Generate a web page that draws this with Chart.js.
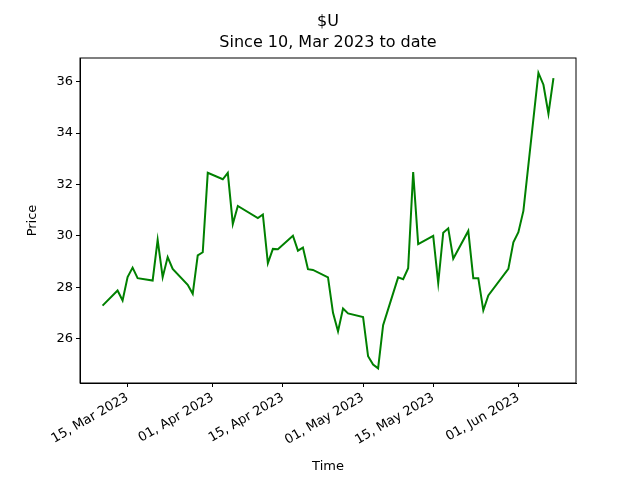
<!DOCTYPE html>
<html>
<head>
<meta charset="utf-8">
<script src="https://cdn.jsdelivr.net/npm/chart.js@4"></script>
<style>
  html, body { margin: 0; padding: 0; background: #fff; }
  #wrap { width: 640px; height: 480px; }
</style>
</head>
<body>
<div id="wrap"><canvas id="chart" width="640" height="480"></canvas></div>
<script>
const dates = ['2023-03-10','2023-03-13','2023-03-14','2023-03-15','2023-03-16','2023-03-17',
  '2023-03-20','2023-03-21','2023-03-22','2023-03-23','2023-03-24','2023-03-27','2023-03-28',
  '2023-03-29','2023-03-30','2023-03-31','2023-04-03','2023-04-04','2023-04-05','2023-04-06',
  '2023-04-10','2023-04-11','2023-04-12','2023-04-13','2023-04-14','2023-04-17','2023-04-18',
  '2023-04-19','2023-04-20','2023-04-21','2023-04-24','2023-04-25','2023-04-26','2023-04-27',
  '2023-04-28','2023-05-01','2023-05-02','2023-05-03','2023-05-04','2023-05-05','2023-05-08',
  '2023-05-09','2023-05-10','2023-05-11','2023-05-12','2023-05-15','2023-05-16','2023-05-17',
  '2023-05-18','2023-05-19','2023-05-22','2023-05-23','2023-05-24','2023-05-25','2023-05-26',
  '2023-05-30','2023-05-31','2023-06-01','2023-06-02','2023-06-05','2023-06-06','2023-06-07',
  '2023-06-08'];
const prices = [27.28, 27.87, 27.48, 28.39, 28.76, 28.35,
  28.26, 29.84, 28.39, 29.17, 28.71, 28.09, 27.74,
  29.24, 29.36, 32.45, 32.20, 32.45, 30.46, 31.16,
  30.69, 30.83, 28.93, 29.49, 29.48, 30.00, 29.42,
  29.54, 28.70, 28.67, 28.38, 27.00, 26.28, 27.17,
  26.98, 26.84, 25.31, 24.99, 24.84, 26.52, 28.38,
  28.31, 28.74, 32.48, 29.68, 30.00, 28.16, 30.12,
  30.29, 29.11, 30.19, 28.35, 28.35, 27.10, 27.68,
  28.71, 29.75, 30.14, 30.97, 36.34, 35.88, 34.75,
  36.14];
const tickDates = ['2023-03-15','2023-04-01','2023-04-15','2023-05-01','2023-05-15','2023-06-01'];
const yTicks = [26, 28, 30, 32, 34, 36];
const months = ['Jan','Feb','Mar','Apr','May','Jun','Jul','Aug','Sep','Oct','Nov','Dec'];

const day0 = Date.UTC(2023, 2, 10);
const toDay = s => { const p = s.split('-').map(Number); return (Date.UTC(p[0], p[1] - 1, p[2]) - day0) / 86400000; };
const fmt = d => { const t = new Date(day0 + d * 86400000); return String(t.getUTCDate()).padStart(2, '0') + ', ' + months[t.getUTCMonth()] + ' ' + t.getUTCFullYear(); };

const pts = dates.map((d, i) => ({ x: toDay(d), y: prices[i] }));
const font = { family: 'DejaVu Sans', size: 13 };

const frame = {
    id: 'frame',
    afterDraw(chart) {
        const { ctx, chartArea: a } = chart;
        ctx.save();
        ctx.strokeStyle = '#000';
        ctx.lineWidth = 1;
        ctx.strokeRect(a.left, a.top, a.right - a.left, a.bottom - a.top);
        ctx.fillStyle = '#000';
        ctx.textAlign = 'center';
        ctx.textBaseline = 'middle';
        ctx.font = '16px "DejaVu Sans"';
        const cx = (a.left + a.right) / 2;
        ctx.fillText('$U', cx, 22);
        ctx.fillText('Since 10, Mar 2023 to date', cx, 43);
        ctx.restore();
    }
};

Chart.defaults.color = '#000';
new Chart(document.getElementById('chart').getContext('2d'), {
    type: 'line',
    data: {
        datasets: [{
            data: pts,
            borderColor: '#008000',
            borderWidth: 2,
            pointRadius: 0,
            tension: 0,
            fill: false
        }]
    },
    options: {
        responsive: false,
        animation: false,
        layout: { padding: { left: 25, right: 64, top: 58, bottom: 0 } },
        plugins: { legend: { display: false }, tooltip: { enabled: false } },
        scales: {
            x: {
                type: 'linear',
                min: -4.5,
                max: 94.5,
                afterBuildTicks: s => { s.ticks = tickDates.map(d => ({ value: toDay(d) })); },
                afterFit: s => { s.height = 97; },
                ticks: { font, minRotation: 30, maxRotation: 30, callback: v => fmt(v), autoSkip: false },
                grid: { drawOnChartArea: false, color: '#000', tickLength: 4 },
                border: { color: '#000' },
                title: { display: true, text: 'Time', font, padding: { top: 0, bottom: 6 } }
            },
            y: {
                min: 24.27,
                max: 36.92,
                afterBuildTicks: s => { s.ticks = yTicks.map(v => ({ value: v })); },
                afterFit: s => { s.width = 55; },
                ticks: { font, callback: v => String(v) },
                grid: { drawOnChartArea: false, color: '#000', tickLength: 4 },
                border: { color: '#000' },
                title: { display: true, text: 'Price', font, padding: { top: 0, bottom: 0 } }
            }
        }
    },
    plugins: [frame]
});
</script>
</body>
</html>
